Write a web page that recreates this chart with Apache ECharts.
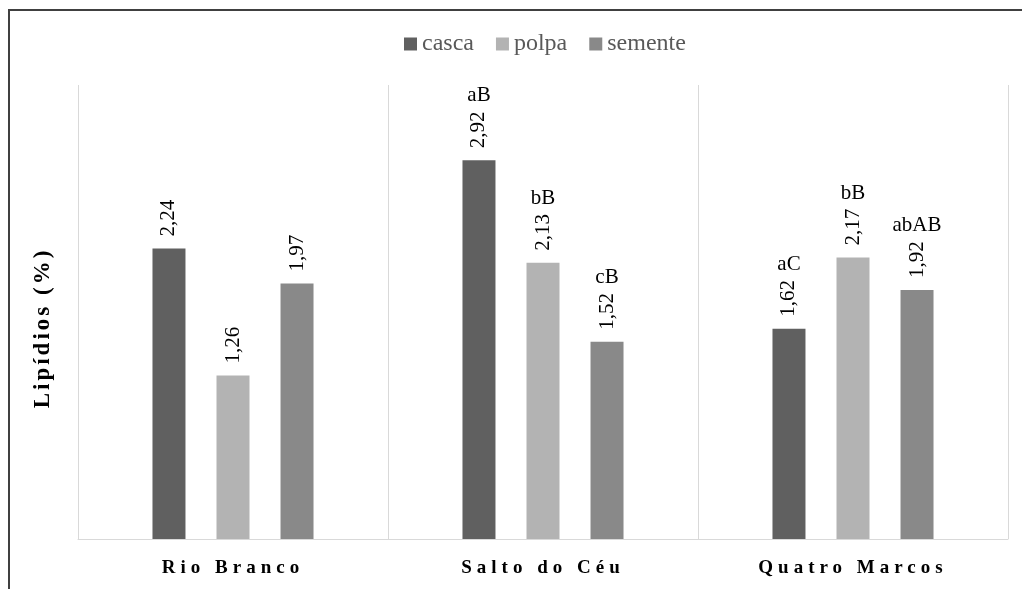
<!DOCTYPE html>
<html>
<head>
<meta charset="utf-8">
<script src="https://cdn.jsdelivr.net/npm/echarts@6/dist/echarts.min.js"></script>
<style>
  html, body { margin: 0; padding: 0; background: #fff; }
  #chart { width: 1022px; height: 589px; }
</style>
</head>
<body>
<div id="chart"></div>
<script>
var locais = ["Rio Branco", "Salto do Céu", "Quatro Marcos"];
var casca = [2.24, 2.92, 1.62];
var polpa = [1.26, 2.13, 2.17];
var semente = [1.97, 1.52, 1.92];
var letrasCasca = ["", "aB", "aC"];
var letrasPolpa = ["", "bB", "bB"];
var letrasSemente = ["", "cB", "abAB"];

var serif = "'Liberation Serif', 'Times New Roman', serif";
var cores = { casca: "#606060", polpa: "#b3b3b3", semente: "#898989" };

// the bold texts of the original are letter-spaced; zrender has no option for it,
// so set it on the canvas context for every text that is drawn
(function () {
    var proto = CanvasRenderingContext2D.prototype;
    var fillText = proto.fillText;
    proto.fillText = function (text, x, y, maxWidth) {
        var f = this.font || "";
        var ls = "0px";
        if (/bold/.test(f) && /19px/.test(f)) {
            ls = "5px";
        } else if (/bold/.test(f) && /23px/.test(f)) {
            ls = "3px";
        }
        if (this.letterSpacing !== ls) {
            this.letterSpacing = ls;
            this.font = f;
        }
        return maxWidth === undefined ? fillText.call(this, text, x, y) : fillText.call(this, text, x, y, maxWidth);
    };
})();

function valueSeries(name, values) {
    return {
        name: name,
        type: "bar",
        stack: name,
        barWidth: 33,
        barGap: "94%",
        itemStyle: { color: cores[name] },
        label: {
            show: true,
            position: "top",
            rotate: 90,
            align: "left",
            verticalAlign: "middle",
            distance: 12,
            fontFamily: serif,
            fontSize: 21,
            color: "#000",
            formatter: function (p) {
                return p.value.toFixed(2).replace(".", ",");
            }
        },
        data: values
    };
}

function letterSeries(name, letters) {
    return {
        name: name + "-letras",
        type: "bar",
        stack: name,
        stackStrategy: "all",
        barWidth: 33,
        barGap: "94%",
        itemStyle: { color: "transparent" },
        label: {
            show: true,
            position: "top",
            distance: 54,
            fontFamily: serif,
            fontSize: 21,
            color: "#000",
            formatter: function (p) {
                return letters[p.dataIndex];
            }
        },
        data: letters.map(function () { return 0; })
    };
}

var chart = echarts.init(document.getElementById("chart"));
chart.setOption({
    animation: false,
    backgroundColor: "#fff",
    textStyle: { fontFamily: serif },
    graphic: [{
        type: "rect",
        shape: { x: 9, y: 10, width: 1200, height: 800 },
        style: { fill: "none", stroke: "#404040", lineWidth: 2 },
        silent: true
    }, {
        type: "text",
        x: 43,
        y: 328,
        rotation: Math.PI / 2,
        silent: true,
        style: {
            text: "Lipídios (%)",
            fontFamily: serif,
            fontWeight: "bold",
            fontSize: 23,
            fill: "#000",
            align: "center",
            verticalAlign: "middle"
        }
    }],
    legend: {
        data: ["casca", "polpa", "semente"],
        top: 27,
        left: 399,
        itemWidth: 13,
        itemHeight: 13,
        itemGap: 22,
        icon: "rect",
        textStyle: { fontFamily: serif, fontSize: 24, color: "#595959" }
    },
    grid: { left: 78, right: 14, top: 85, bottom: 50 },
    xAxis: {
        type: "category",
        data: locais,
        axisLine: { lineStyle: { color: "#d9d9d9", width: 1 } },
        axisTick: { show: false },
        splitLine: { show: true, lineStyle: { color: "#d9d9d9" } },
        axisLabel: {
            margin: 20,
            fontFamily: serif,
            fontWeight: "bold",
            fontSize: 19,
            color: "#000"
        }
    },
    yAxis: {
        type: "value",
        min: 0,
        max: 3.5,
        show: false
    },
    series: [
        valueSeries("casca", casca),
        letterSeries("casca", letrasCasca),
        valueSeries("polpa", polpa),
        letterSeries("polpa", letrasPolpa),
        valueSeries("semente", semente),
        letterSeries("semente", letrasSemente)
    ]
});
</script>
</body>
</html>
